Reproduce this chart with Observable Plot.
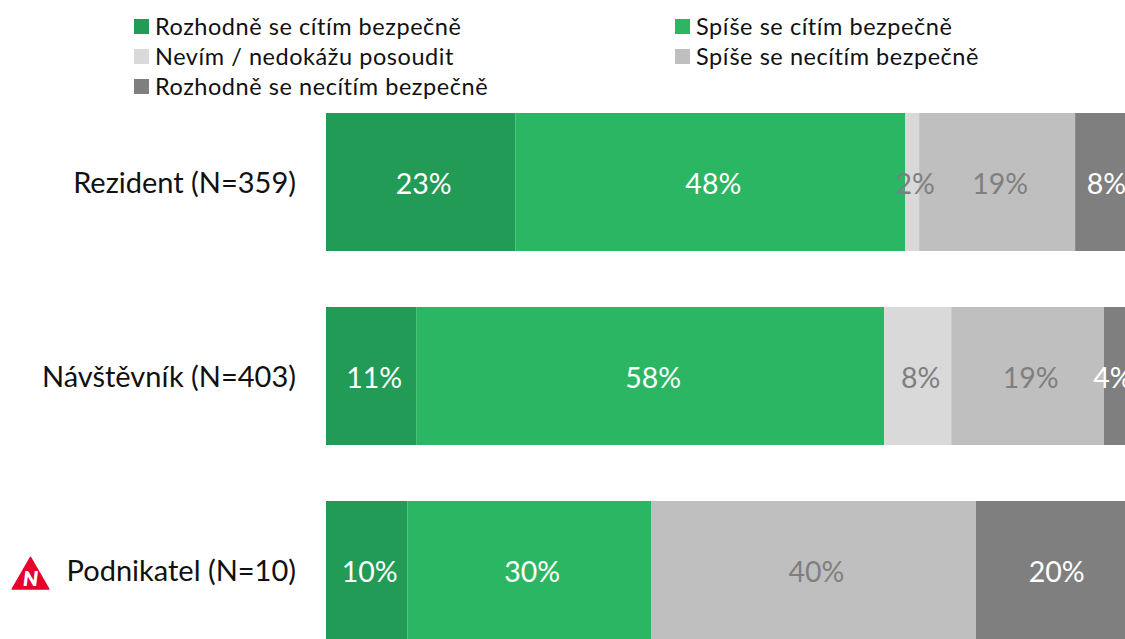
<!DOCTYPE html>
<html lang="cs">
<head>
<meta charset="utf-8">
<script src="https://cdn.jsdelivr.net/npm/d3@7"></script>
<script src="https://cdn.jsdelivr.net/npm/@observablehq/plot@0.6"></script>
<style>
html,body{margin:0;padding:0;background:#fff;overflow:hidden;width:1125px;height:639px}
#legend{position:relative;height:107px;width:1125px;font-family:Lato,sans-serif;font-size:23.5px;letter-spacing:.55px;color:#111}
.item{position:absolute;display:flex;align-items:center;height:30px;white-space:nowrap}
.sw{width:15px;height:15px;margin-right:6px;flex:none}
svg{display:block}
</style>
</head>
<body>
<div id="legend"></div>
<div id="chart"></div>
<script>
const groups = ["Rezident (N=359)", "Návštěvník (N=403)", "Podnikatel (N=10)"];
const seriesNames = ["Rozhodně se cítím bezpečně", "Spíše se cítím bezpečně", "Nevím / nedokážu posoudit", "Spíše se necítím bezpečně", "Rozhodně se necítím bezpečně"];
const seriesColors = ["#219B55", "#2BB663", "#D9D9D9", "#BFBFBF", "#7F7F7F"];
const labelColors = ["#FFFFFF", "#FFFFFF", "#7F7F7F", "#7F7F7F", "#FFFFFF"];
const rezident = [23.3, 48, 1.7, 19.2, 7.8];
const navstevnik = [11.1, 57.6, 8.25, 18.8, 4.3];
const podnikatel = [10, 30, 0, 40, 20];
const flagged = ["Podnikatel (N=10)"];

const rows = [rezident, navstevnik, podnikatel].flatMap((vals, g) => {
  let start = 0;
  return vals.map((value, s) => {
    const mid = start + value / 2;
    start += value;
    return {group: groups[g], series: seriesNames[s], value, mid, label: labelColors[s]};
  });
});

const legend = document.getElementById("legend");
seriesNames.forEach((name, i) => {
  const el = document.createElement("div");
  el.className = "item";
  el.style.left = (i % 2 ? 675 : 134) + "px";
  el.style.top = (11 + 30 * Math.floor(i / 2)) + "px";
  const sw = document.createElement("span");
  sw.className = "sw";
  sw.style.background = seriesColors[i];
  el.append(sw, name);
  legend.append(el);
});

const font = "Lato, sans-serif";
const lastSeries = seriesNames[seriesNames.length - 1];
const valueLabels = (keep, dx) => Plot.text(rows.filter(d => d.value > 0 && keep(d)), {
  x: "mid", y: "group",
  text: d => Math.round(d.value) + "%",
  fill: {value: "label", scale: null},
  dx, dy: 2,
  fontSize: 28.5, fontFamily: font
});

const chart = Plot.plot({
  width: 1125,
  height: 532,
  margin: 0,
  style: {background: "#fff", overflow: "visible"},
  x: {domain: [0, 100], range: [326, 1138.5], axis: null},
  y: {domain: groups, range: [6, 532], paddingInner: 56 / 194, paddingOuter: 0, round: false, axis: null, label: null},
  color: {domain: seriesNames, range: seriesColors},
  marks: [
    Plot.barX(rows, {x: "value", y: "group", z: "series", fill: "series", order: seriesNames}),
    valueLabels(d => d.series !== lastSeries, 2.5),
    valueLabels(d => d.series === lastSeries && d.group !== groups[1], -1),
    valueLabels(d => d.series === lastSeries && d.group === groups[1], -9),
    Plot.text(groups, {
      y: d => d, text: d => d, frameAnchor: "left", dx: 295.5, dy: 1, textAnchor: "end",
      fontSize: 29, fontFamily: font, fill: "#111", letterSpacing: 0.1
    }),
    Plot.dot(flagged, {
      y: d => d, frameAnchor: "left", dx: 30, dy: 8, symbol: "triangle", r: 13.6,
      fill: "#E8002D", stroke: "#E8002D", strokeWidth: 1.5, strokeLinejoin: "round"
    }),
    Plot.text(flagged, {
      y: d => d, text: () => "N", frameAnchor: "left", dx: 30, dy: 9, textAnchor: "middle",
      fontSize: 21, fontWeight: 800, fontStyle: "italic", fontFamily: font, fill: "#fff"
    })
  ]
});
document.getElementById("chart").append(chart);
</script>
</body>
</html>
